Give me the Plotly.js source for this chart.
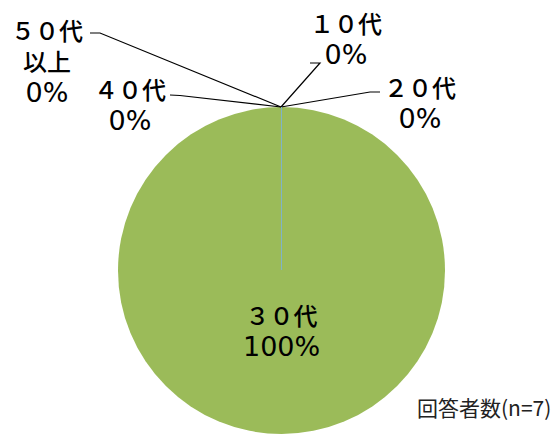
<!DOCTYPE html>
<html>
<head>
<meta charset="utf-8">
<script src="https://cdn.plot.ly/plotly-3.0.1.min.js"></script>
<style>html,body{margin:0;padding:0;background:#fff;}#chart{width:557px;height:434px;}</style>
</head>
<body>
<div id="chart"></div>
<script>
// ---- data ----
const categories = ['１０代', '２０代', '３０代', '４０代', '５０代以上'];
const counts = [0, 0, 7, 0, 0];
const respondentNote = '回答者数(n=7)';

// ---- layout helpers ----
const W = 557, H = 434;
const px = x => x / W;
const py = y => 1 - y / H;
const FONT = '"Noto Sans CJK JP", "Noto Sans", sans-serif';

const total = counts.reduce((a, b) => a + b, 0);
const pcts = counts.map(v => Math.round(v / total * 100));
const labelText = categories.map((c, i) =>
  c.replace('以上', '<br>以上') +
  '<br><span style="font-family:\'DejaVu Sans\';font-size:27px">' + pcts[i] + '%</span>');

// label placement (pixels), leader line geometry
const labelPos = [
  {x: 346, y: 37, line: [[310, 63], [320, 63], [281, 107]]},
  {x: 420, y: 101, line: [[380, 92], [370, 92], [281, 107]]},
  {x: 281, y: 329, line: null},
  {x: 130, y: 103, line: [[170, 95], [180, 95.5], [281, 107]]},
  {x: 47, y: 60, line: [[90, 33], [100, 33], [281, 107]]}
];

const annotations = labelText.map((t, i) => ({
  text: t, x: px(labelPos[i].x), y: py(labelPos[i].y), xref: 'paper', yref: 'paper',
  xanchor: 'center', yanchor: 'middle', showarrow: false, align: 'center',
  font: {family: FONT, size: 24, color: '#000', weight: 500}
}));
annotations.push({
  text: respondentNote, x: px(553), y: py(407), xref: 'paper', yref: 'paper',
  xanchor: 'right', yanchor: 'middle', showarrow: false,
  font: {family: FONT, size: 21, color: '#222'}
});

const shapes = [];
labelPos.forEach(p => {
  if (!p.line) return;
  const d = p.line.map((pt, k) => (k ? 'L' : 'M') + px(pt[0]) + ',' + py(pt[1])).join(' ');
  shapes.push({type: 'path', xref: 'paper', yref: 'paper', path: d, line: {color: '#000', width: 1.2}});
});
// slice boundary of zero-size slices (radius from centre to top)
shapes.push({type: 'line', xref: 'paper', yref: 'paper', x0: px(281.5), x1: px(281.5), y0: py(107), y1: py(270),
  line: {color: '#7fb3c8', width: 1}});

const trace = {
  type: 'pie',
  labels: categories,
  values: counts,
  sort: false,
  direction: 'clockwise',
  rotation: 0,
  textinfo: 'none',
  hoverinfo: 'label+percent',
  marker: {colors: ['#4F81BD', '#C0504D', '#9BBB59', '#8064A2', '#4BACC6'], line: {width: 0}},
  domain: {x: [px(118), px(445)], y: [0, py(107)]},
  showlegend: false
};

const layout = {
  width: W, height: H,
  margin: {l: 0, r: 0, t: 0, b: 0},
  paper_bgcolor: '#fff',
  showlegend: false,
  annotations: annotations,
  shapes: shapes
};

Plotly.newPlot('chart', [trace], layout, {displayModeBar: false, staticPlot: true});
</script>
</body>
</html>
